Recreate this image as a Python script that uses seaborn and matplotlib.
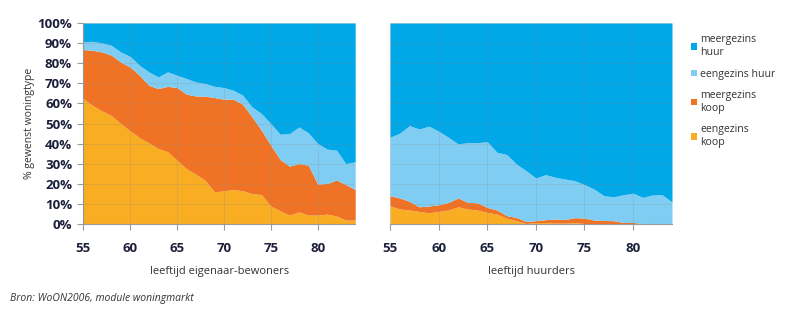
import numpy as np
import pandas as pd
import matplotlib
matplotlib.use("Agg")
import matplotlib.pyplot as plt
from matplotlib.patches import Patch
import seaborn as sns

ages = list(range(55, 85))

# Left panel: eigenaar-bewoners (percentages per woningtype)
own_eengezins_koop = [62.4, 59.0, 56.3, 54.0, 50.0, 46.4, 43.0, 40.4, 37.6, 36.0,
                      31.8, 27.6, 24.8, 21.8, 16.0, 16.6, 17.2, 16.6, 15.2, 14.7,
                      9.0, 6.6, 4.5, 6.1, 4.5, 4.5, 5.0, 4.0, 2.0, 2.0]
own_meergezins_koop = [24.4, 27.4, 29.3, 30.0, 30.6, 31.7, 31.0, 28.6, 29.8, 32.5,
                       36.1, 37.0, 38.9, 41.8, 46.9, 45.5, 44.9, 43.0, 38.1, 32.0,
                       30.2, 25.5, 24.3, 24.0, 24.8, 15.4, 15.2, 17.9, 17.7, 15.2]
own_eengezins_huur = [3.8, 4.5, 4.5, 4.9, 5.0, 5.3, 5.0, 6.7, 5.8, 7.2,
                      6.1, 7.8, 7.0, 6.3, 5.6, 5.8, 4.5, 4.5, 5.0, 8.3,
                      10.8, 12.6, 16.2, 18.2, 16.1, 20.2, 17.1, 14.9, 10.4, 13.8]

# Right panel: huurders
rent_eengezins_koop = [9.1, 7.5, 7.0, 6.3, 5.6, 6.3, 7.0, 8.6, 7.5, 7.0,
                       5.8, 5.0, 3.0, 1.7, 0.3, 0.8, 0.8, 0.5, 0.5, 0.7,
                       0.3, 0.0, 0.0, 0.0, 0.0, 0.0, 0.0, 0.0, 0.0, 0.0]
rent_meergezins_koop = [5.0, 5.5, 4.3, 2.3, 3.4, 3.3, 3.8, 4.4, 3.3, 3.6,
                        2.5, 2.0, 1.2, 1.6, 1.0, 0.9, 1.4, 2.0, 1.8, 2.5,
                        2.7, 2.0, 1.8, 1.7, 0.8, 0.8, 0.3, 0.0, 0.0, 0.0]
rent_eengezins_huur = [29.1, 32.2, 37.7, 38.7, 39.7, 36.6, 32.4, 26.9, 29.7, 29.9,
                       32.7, 28.7, 30.4, 26.6, 25.3, 21.2, 22.4, 20.8, 20.1, 18.4,
                       16.6, 15.4, 12.3, 11.9, 13.8, 14.6, 13.0, 14.5, 14.6, 11.0]

series_names = ["eengezins koop", "meergezins koop", "eengezins huur", "meergezins huur"]
legend_labels = ["meergezins\nhuur", "eengezins huur", "meergezins\nkoop", "eengezins\nkoop"]
x_ticks = [55, 60, 65, 70, 75, 80]
y_ticks = [0, 10, 20, 30, 40, 50, 60, 70, 80, 90, 100]
x_titles = ["leeftijd eigenaar-bewoners", "leeftijd huurders"]
source = "Bron: WoON2006, module woningmarkt"
y_title = "% gewenst woningtype"

colors = {"eengezins koop": "#F8AD22", "meergezins koop": "#F07224",
          "eengezins huur": "#7FCDF3", "meergezins huur": "#00A8E8"}

def make_df(ek, mk, eh):
    df = pd.DataFrame({"age": ages, "eengezins koop": ek,
                       "meergezins koop": mk, "eengezins huur": eh})
    df["meergezins huur"] = 100 - df[["eengezins koop", "meergezins koop", "eengezins huur"]].sum(axis=1)
    return df

dfs = [make_df(own_eengezins_koop, own_meergezins_koop, own_eengezins_huur),
       make_df(rent_eengezins_koop, rent_meergezins_koop, rent_eengezins_huur)]

sns.set_theme(style="white")
plt.rcParams["font.family"] = ["Open Sans", "DejaVu Sans"]

fig = plt.figure(figsize=(8, 3.33), dpi=100)
ax1 = fig.add_axes([0.104, 0.327, 0.340, 0.604])
ax2 = fig.add_axes([0.4875, 0.327, 0.3525, 0.604])

navy = "#1c1f3a"
for i, (ax, df) in enumerate(zip([ax1, ax2], dfs)):
    ax.stackplot(df["age"], *[df[s] for s in series_names],
                 colors=[colors[s] for s in series_names], linewidth=0)
    ax.set_xlim(55, 84)
    ax.set_ylim(0, 100)
    ax.set_xticks(x_ticks)
    ax.set_yticks(y_ticks)
    ax.set_axisbelow(False)
    ax.grid(True, color="#8a8a8a", alpha=0.3, linewidth=0.5)
    for sp in ["top", "right"]:
        ax.spines[sp].set_visible(False)
    ax.spines["bottom"].set_color("#9a9a9a")
    ax.spines["bottom"].set_linewidth(0.8)
    ax.tick_params(axis="x", bottom=True, length=4, width=0.8, color="#9a9a9a",
                   pad=9, labelsize=9.5, labelcolor=navy)
    for lab in ax.get_xticklabels():
        lab.set_fontweight("bold")
    ax.set_xlabel(x_titles[i], fontsize=8, color="#333333", labelpad=8)
    if i == 0:
        ax.spines["left"].set_color("#9a9a9a")
        ax.spines["left"].set_linewidth(0.8)
        ax.tick_params(axis="y", left=True, length=4, width=0.8, color="#9a9a9a",
                       pad=4, labelsize=9.5, labelcolor=navy)
        ax.set_yticklabels([f"{v}%" for v in y_ticks])
        for lab in ax.get_yticklabels():
            lab.set_fontweight("bold")
        ax.set_ylabel(y_title, fontsize=7.5, color="#333333", labelpad=2)
    else:
        ax.spines["left"].set_visible(False)
        ax.tick_params(axis="y", left=False, labelleft=False)

handles = [Patch(facecolor=colors[s], edgecolor="none") for s in
           ["meergezins huur", "eengezins huur", "meergezins koop", "eengezins koop"]]
fig.legend(handles, legend_labels, loc="upper left", bbox_to_anchor=(0.852, 0.925),
           frameon=False, fontsize=7.6, handlelength=0.55, handleheight=0.55,
           handletextpad=0.3, labelspacing=1.0, labelcolor="#333333")

fig.text(0.012, 0.095, source, fontsize=7.5, style="italic", color="#333333")

fig.savefig("out.png", dpi=100)
